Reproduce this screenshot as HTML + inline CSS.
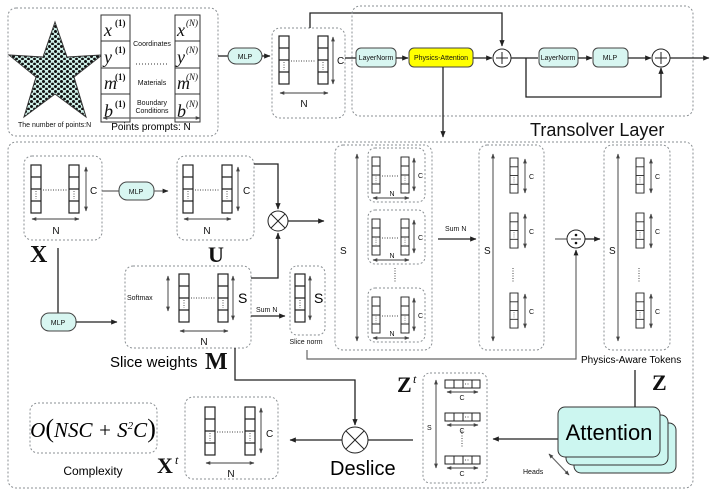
<!DOCTYPE html>
<html><head><meta charset="utf-8"><style>
html,body{margin:0;padding:0;background:#fff;}
svg{display:block;font-family:"Liberation Sans",sans-serif;}
.d{fill:none;stroke:#8a8f93;stroke-width:1;stroke-dasharray:2 2;}
.l{fill:none;stroke:#222;stroke-width:1.3;}
.g{fill:none;stroke:#666;stroke-width:1.2;}
.p{fill:#d8f6f1;stroke:#444;stroke-width:1;}
.t{font-size:10px;fill:#111;}
.s{font-size:7px;fill:#111;}
.bf{font-family:"Liberation Serif",serif;font-weight:bold;fill:#111;}
</style></head><body>
<svg width="713" height="502" viewBox="0 0 713 502" xmlns="http://www.w3.org/2000/svg">
<defs>
<marker id="a" viewBox="0 0 10 10" refX="9" refY="5" markerWidth="5" markerHeight="5" orient="auto"><path d="M0 1L10 5L0 9z" fill="#222"/></marker>
<marker id="b" viewBox="0 0 10 10" refX="9" refY="5" markerWidth="4" markerHeight="4" orient="auto-start-reverse"><path d="M0 1L10 5L0 9z" fill="#444"/></marker>
<pattern id="dots" width="6" height="5" patternUnits="userSpaceOnUse"><rect width="6" height="5" fill="#cdeee6"/><circle cx="1.5" cy="1.5" r="1.5" fill="#111"/><circle cx="4.5" cy="4" r="1.4" fill="#111"/></pattern>
<g id="col"><rect width="10" height="48" fill="#fff" stroke="#222" stroke-width="1.2"/><path d="M0 12H10M0 24H10M0 36H10" stroke="#222" stroke-width="1.2"/><path d="M5 26V34" stroke="#555" stroke-dasharray="1 1.5"/></g>
<g id="hrow"><rect width="35" height="8" fill="#fff" stroke="#222"/><path d="M9 0V8M18 0V8M27 0V8" stroke="#222"/><path d="M20 4H25" stroke="#555" stroke-dasharray="1 1.5"/></g>
</defs>

<!-- top-left input box -->
<rect class="d" x="8" y="8" width="210" height="128" rx="8"/>
<polygon points="55,22 67,57 102,55 74,77 86,117 55,94 24,117 36,77 9,55 43,57" fill="url(#dots)" stroke="#333"/>
<text class="s" x="18" y="127">The number of points:N</text>
<g stroke="#333" fill="#fff"><rect x="101" y="15" width="29" height="107"/><rect x="175" y="15" width="25" height="107"/></g>
<path d="M101 41H130M101 68H130M101 94H130M175 41H200M175 68H200M175 94H200" stroke="#333"/>
<g font-family="Liberation Serif,serif" font-style="italic" font-size="18" fill="#111">
<text x="104" y="36">x</text><text x="104" y="63">y</text><text x="104" y="89">m</text><text x="104" y="117">b</text>
<text x="177" y="36">x</text><text x="177" y="63">y</text><text x="177" y="89">m</text><text x="177" y="117">b</text></g>
<g font-family="Liberation Serif,serif" font-size="9" fill="#111" font-weight="bold">
<text x="115" y="26">(1)</text><text x="115" y="53">(1)</text><text x="115" y="80">(1)</text><text x="115" y="107">(1)</text></g>
<g font-family="Liberation Serif,serif" font-size="9" fill="#111" font-style="italic">
<text x="186" y="26">(N)</text><text x="186" y="53">(N)</text><text x="186" y="80">(N)</text><text x="186" y="107">(N)</text></g>
<g class="s" text-anchor="middle"><text x="152" y="46">Coordinates</text><text x="152" y="85">Materials</text><text x="152" y="105">Boundary</text><text x="152" y="113">Conditions</text></g>
<path d="M136 64H168" stroke="#333" stroke-dasharray="1 2"/>
<path d="M103 118H200" class="g" marker-start="url(#b)" marker-end="url(#b)"/>
<text x="151" y="130" font-size="10" text-anchor="middle">Points prompts: N</text>

<path class="l" d="M218 56H228"/>
<rect class="p" x="228" y="48" width="34" height="16" rx="8"/><text class="s" x="245" y="59" text-anchor="middle">MLP</text>
<path class="l" d="M262 56H270" marker-end="url(#a)"/>
<rect class="d" x="272" y="28" width="73" height="90" rx="8"/>
<use href="#col" x="279" y="36"/><use href="#col" x="318" y="36"/>
<path d="M291 61H316" stroke="#444" stroke-dasharray="1 1.5"/>
<path d="M333 37V84" class="g" marker-start="url(#b)" marker-end="url(#b)"/><text class="t" x="337" y="64">C</text>
<path d="M280 93H328" class="g" marker-start="url(#b)" marker-end="url(#b)"/><text class="t" x="304" y="107" text-anchor="middle">N</text>

<!-- Transolver layer -->
<path class="l" d="M310 28V13H502V46" marker-end="url(#a)"/>
<rect class="d" x="352" y="6" width="341" height="110" rx="8"/>
<path class="l" d="M345 58H356"/>
<rect class="p" x="356" y="48" width="40" height="19" rx="5"/><text class="s" x="376" y="60" text-anchor="middle">LayerNorm</text>
<path class="l" d="M396 58H408" marker-end="url(#a)"/>
<rect x="409" y="48" width="64" height="19" rx="5" fill="#ffff00" stroke="#444"/><text class="s" x="441" y="60" text-anchor="middle">Physics-Attention</text>
<path class="l" d="M473 58H492" marker-end="url(#a)"/>
<circle cx="502" cy="58" r="9" fill="#fff" stroke="#222"/><path d="M496 58H508M502 52V64" stroke="#222"/>
<path class="l" d="M511 58H538"/>
<rect class="p" x="539" y="48" width="39" height="19" rx="5"/><text class="s" x="558" y="60" text-anchor="middle">LayerNorm</text>
<path class="l" d="M578 58H592" marker-end="url(#a)"/>
<rect class="p" x="593" y="48" width="35" height="19" rx="5"/><text class="s" x="610" y="60" text-anchor="middle">MLP</text>
<path class="l" d="M628 58H651" marker-end="url(#a)"/>
<circle cx="661" cy="58" r="9" fill="#fff" stroke="#222"/><path d="M655 58H667M661 52V64" stroke="#222"/>
<path class="l" d="M526 58V97H661V68" marker-end="url(#a)"/>
<path class="l" d="M670 58H709" marker-end="url(#a)"/>
<path class="l" d="M443 67V137" marker-end="url(#a)" stroke-width="1.6"/>
<text x="530" y="136" font-size="18" fill="#111">Transolver Layer</text>

<!-- big bottom box -->
<rect class="d" x="8" y="142" width="685" height="346" rx="8"/>
<!-- X box -->
<rect class="d" x="24" y="156" width="78" height="84" rx="8"/>
<use href="#col" x="31" y="165"/><use href="#col" x="69" y="165"/>
<path d="M43 190H67" stroke="#444" stroke-dasharray="1 1.5"/>
<path d="M86 167V211" class="g" marker-start="url(#b)" marker-end="url(#b)"/><text class="t" x="90" y="194">C</text>
<path d="M32 219H79" class="g" marker-start="url(#b)" marker-end="url(#b)"/><text class="t" x="56" y="234" text-anchor="middle">N</text>
<text class="bf" x="30" y="262" font-size="24">X</text>
<path class="g" d="M102 191H119"/>
<rect class="p" x="119" y="182" width="35" height="18" rx="8"/><text class="s" x="136" y="194" text-anchor="middle">MLP</text>
<path class="g" d="M154 191H168" marker-end="url(#a)"/>
<!-- U box -->
<rect class="d" x="177" y="156" width="77" height="84" rx="8"/>
<use href="#col" x="183" y="165"/><use href="#col" x="222" y="165"/>
<path d="M195 190H220" stroke="#444" stroke-dasharray="1 1.5"/>
<path d="M238 167V211" class="g" marker-start="url(#b)" marker-end="url(#b)"/><text class="t" x="243" y="194">C</text>
<path d="M184 219H231" class="g" marker-start="url(#b)" marker-end="url(#b)"/><text class="t" x="207" y="234" text-anchor="middle">N</text>
<text class="bf" x="208" y="262" font-size="22">U</text>
<path class="l" d="M254 164H278V209" marker-end="url(#a)"/>
<circle cx="278" cy="221" r="10" fill="#fff" stroke="#222"/><path d="M271 214L285 228M285 214L271 228" stroke="#222"/>
<path class="l" d="M288 221H324" marker-end="url(#a)"/>
<path class="l" d="M251 278H278V233" marker-end="url(#a)"/>
<!-- MLP 2 -->
<path class="l" d="M58 248V313"/>
<rect class="p" x="41" y="313" width="35" height="18" rx="8"/><text class="s" x="58" y="325" text-anchor="middle">MLP</text>
<path class="l" d="M76 322H117" marker-end="url(#a)"/>
<!-- slice weights -->
<rect class="d" x="125" y="266" width="126" height="82" rx="8"/>
<text class="s" x="127" y="300" font-size="8">Softmax</text>
<path d="M168 276V311" class="g" marker-start="url(#b)" marker-end="url(#b)"/>
<use href="#col" x="179" y="274"/><use href="#col" x="218" y="274"/>
<path d="M191 298H216" stroke="#444" stroke-dasharray="1 1.5"/>
<path d="M233 276V320" class="g" marker-start="url(#b)" marker-end="url(#b)"/><text x="238" y="303" font-size="14">S</text>
<path d="M180 331H228" class="g" marker-start="url(#b)" marker-end="url(#b)"/><text class="t" x="204" y="345" text-anchor="middle">N</text>
<path class="l" d="M251 316H285" marker-end="url(#a)"/><text class="s" x="256" y="312" font-size="8">Sum N</text>
<rect class="d" x="290" y="266" width="35" height="69" rx="7"/>
<use href="#col" x="295" y="274"/>
<path d="M310 276V320" class="g" marker-start="url(#b)" marker-end="url(#b)"/><text x="314" y="303" font-size="14">S</text>
<text class="s" x="306" y="344" text-anchor="middle">Slice norm</text>
<text x="110" y="367" font-size="15">Slice weights</text>
<text class="bf" x="205" y="369" font-size="24">M</text>
<path class="g" d="M307 350V359H576V250" marker-end="url(#a)" stroke="#333"/>

<!-- middle S boxes -->
<rect class="d" x="335" y="145" width="97" height="205" rx="8"/>
<path d="M357 154V341" class="g" marker-start="url(#b)" marker-end="url(#b)"/><text class="t" x="340" y="254">S</text>
<g id="sub">
<rect class="d" x="368" y="148" width="57" height="54" rx="7"/>
<use href="#col" transform="translate(372 157) scale(0.8 0.75)"/><use href="#col" transform="translate(401 157) scale(0.8 0.75)"/>
<path d="M382 176H399" stroke="#444" stroke-dasharray="1 1.5"/>
<path d="M414 158V191" class="g" marker-start="url(#b)" marker-end="url(#b)"/><text class="s" x="418" y="178" font-size="8">C</text>
<text class="s" x="392" y="196" text-anchor="middle" font-size="8">N</text>
<path d="M373 198H409" class="g" marker-start="url(#b)" marker-end="url(#b)"/>
</g>
<use href="#sub" y="62"/><use href="#sub" y="140"/>
<path d="M395 268V282" stroke="#444" stroke-dasharray="1 1.5"/>
<path class="l" d="M438 239H476" marker-end="url(#a)"/><text class="s" x="445" y="231" font-size="8">Sum N</text>
<rect class="d" x="479" y="145" width="65" height="205" rx="8"/>
<path d="M493 154V341" class="g" marker-start="url(#b)" marker-end="url(#b)"/><text class="t" x="484" y="254">S</text>
<g id="tc"><use href="#col" transform="translate(510 158) scale(0.8 0.73)"/><path d="M525 159V193" class="g" marker-start="url(#b)" marker-end="url(#b)"/><text class="s" x="529" y="179" font-size="8">C</text></g>
<use href="#tc" y="55"/><use href="#tc" y="135"/>
<path d="M513 268V282" stroke="#444" stroke-dasharray="1 1.5"/>
<path class="g" d="M555 239H567" stroke="#333"/>
<circle cx="576" cy="239" r="9" fill="#fff" stroke="#222"/><path d="M571 239H581" stroke="#222"/><circle cx="576" cy="235" r="1.3" fill="#111"/><circle cx="576" cy="243" r="1.3" fill="#111"/>
<path class="l" d="M585 239H600" marker-end="url(#a)"/>
<rect class="d" x="604" y="145" width="66" height="205" rx="8"/>
<path d="M618 154V341" class="g" stroke="#aaa" marker-start="url(#b)" marker-end="url(#b)"/><text class="t" x="609" y="254">S</text>
<use href="#tc" x="126"/><use href="#tc" x="126" y="55"/><use href="#tc" x="126" y="135"/>
<path d="M639 268V282" stroke="#444" stroke-dasharray="1 1.5"/>
<text x="581" y="363" font-size="10">Physics-Aware Tokens</text>

<!-- bottom row -->
<path class="l" d="M235 348V380H355V425" marker-end="url(#a)"/>
<circle cx="355" cy="440" r="13" fill="#fff" stroke="#222"/><path d="M346 431L364 449M364 431L346 449" stroke="#222"/>
<text x="330" y="475" font-size="20">Deslice</text>
<path class="l" d="M342 440H290" marker-end="url(#a)"/>
<path class="l" d="M368 440H413"/>
<rect class="d" x="185" y="397" width="93" height="82" rx="8"/>
<use href="#col" x="205" y="407"/><use href="#col" x="245" y="407"/>
<path d="M217 432H243" stroke="#444" stroke-dasharray="1 1.5"/>
<path d="M261 408V453" class="g" marker-start="url(#b)" marker-end="url(#b)"/><text class="t" x="266" y="437" font-size="12">C</text>
<path d="M206 463H254" class="g" marker-start="url(#b)" marker-end="url(#b)"/><text class="t" x="231" y="477" text-anchor="middle">N</text>
<text class="bf" x="157" y="473" font-size="22">X</text><text x="175" y="464" font-family="Liberation Serif,serif" font-style="italic" font-size="12">t</text>
<rect class="d" x="30" y="403" width="127" height="50" rx="8"/>
<text x="93" y="437" text-anchor="middle" font-family="Liberation Serif,serif" font-style="italic" font-size="21">O<tspan font-style="normal" font-size="26">(</tspan>NSC + S<tspan font-size="11" dy="-8">2</tspan><tspan dy="8">C</tspan><tspan font-style="normal" font-size="26">)</tspan></text>
<text x="93" y="475" text-anchor="middle" font-size="12">Complexity</text>
<text class="bf" x="397" y="392" font-size="22">Z</text><text x="413" y="383" font-family="Liberation Serif,serif" font-style="italic" font-size="12">t</text>
<rect class="d" x="423" y="373" width="64" height="110" rx="7"/>
<path d="M436 380V468" class="g" marker-start="url(#b)" marker-end="url(#b)"/><text class="s" x="427" y="430" font-size="8">S</text>
<g id="hr"><use href="#hrow" x="445" y="380"/><path d="M447 392H478" class="g" marker-start="url(#b)" marker-end="url(#b)"/><text class="s" x="462" y="400" text-anchor="middle">C</text></g>
<use href="#hr" y="33"/><use href="#hr" y="76"/>
<path d="M462 428V448" stroke="#444" stroke-dasharray="1 1.5"/>
<path class="l" d="M558 439H493" marker-end="url(#a)"/>
<rect x="574" y="423" width="102" height="50" rx="7" fill="#ccf6f0" stroke="#333"/>
<rect x="566" y="415" width="102" height="50" rx="7" fill="#ccf6f0" stroke="#333"/>
<rect x="558" y="407" width="102" height="50" rx="7" fill="#ccf6f0" stroke="#333"/>
<text x="609" y="440" text-anchor="middle" font-size="22">Attention</text>
<path class="l" d="M635 370V407"/>
<text class="bf" x="652" y="390" font-size="22">Z</text>
<path d="M549 454L569 475" class="g" marker-start="url(#b)" marker-end="url(#b)"/>
<text class="s" x="523" y="474" font-size="8">Heads</text>
</svg>
</body></html>
